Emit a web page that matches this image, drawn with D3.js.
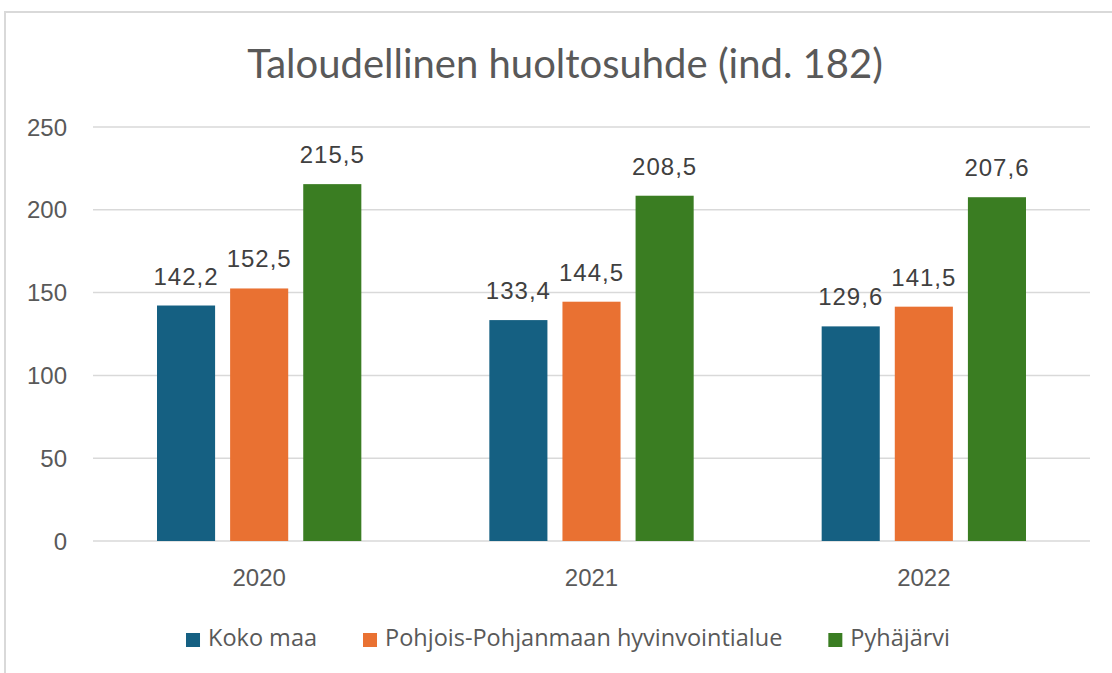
<!DOCTYPE html>
<html>
<head>
<meta charset="utf-8">
<title>Taloudellinen huoltosuhde</title>
<style>
  body { margin: 0; background: #fff; }
  .tick-label { font-family: "Liberation Sans", Arial, sans-serif; font-size: 24px; fill: #595959; }
  .value-label { font-family: "Liberation Sans", Arial, sans-serif; font-size: 24px; fill: #404040; letter-spacing: 1px; }
  .title { font-family: Lato, "Open Sans", sans-serif; font-size: 40px; fill: #595959; }
  .legend-font { font-family: "Open Sans", Lato, sans-serif; font-size: 23.5px; fill: #595959; }
</style>
</head>
<body>
<div id="chart"></div>
<script src="https://cdn.jsdelivr.net/npm/d3@7"></script>
<script>
// data
var years = ["2020", "2021", "2022"];
var seriesNames = ["Koko maa", "Pohjois-Pohjanmaan hyvinvointialue", "Pyhäjärvi"];
var kokoMaa = [142.2, 133.4, 129.6];
var pohjoisPohjanmaa = [152.5, 144.5, 141.5];
var pyhajarvi = [215.5, 208.5, 207.6];
var yTicks = [0, 50, 100, 150, 200, 250];
var colors = ["#156082", "#E97132", "#3A7D22"];

var width = 1112, height = 673;
var plotLeft = 93, plotRight = 1090, plotTop = 127, plotBottom = 541;

var svg = d3.select("#chart").append("svg")
  .attr("width", width)
  .attr("height", height);

// outer chart border (only left and top are in view)
svg.append("path")
  .attr("d", "M5,673 L5,12 L1112,12")
  .attr("fill", "none")
  .attr("stroke", "#d9d9d9")
  .attr("stroke-width", 2);

// title
svg.append("text")
  .attr("class", "title")
  .attr("x", 565)
  .attr("y", 78)
  .attr("text-anchor", "middle")
  .text("Taloudellinen huoltosuhde (ind. 182)");

// scales
var x = d3.scaleBand().domain(years).range([plotLeft, plotRight]);
var y = d3.scaleLinear().domain([0, 250]).range([plotBottom, plotTop]);
var z = d3.scaleBand().domain(seriesNames)
  .range([64, x.bandwidth() - 64])
  .paddingInner(0.2055);
var color = d3.scaleOrdinal().domain(seriesNames).range(colors);

// gridlines
svg.append("g")
  .selectAll("line")
  .data(yTicks)
  .enter().append("line")
  .attr("x1", plotLeft)
  .attr("x2", plotRight)
  .attr("y1", function(d) { return y(d); })
  .attr("y2", function(d) { return y(d); })
  .attr("stroke", "#d9d9d9")
  .attr("stroke-width", 1.5);

// y tick labels
svg.append("g")
  .selectAll("text")
  .data(yTicks)
  .enter().append("text")
  .attr("class", "tick-label")
  .attr("x", 67)
  .attr("y", function(d) { return y(d); })
  .attr("dy", "0.36em")
  .attr("text-anchor", "end")
  .text(function(d) { return d; });

// x labels
svg.append("g")
  .selectAll("text")
  .data(years)
  .enter().append("text")
  .attr("class", "tick-label")
  .attr("x", function(d) { return x(d) + x.bandwidth() / 2; })
  .attr("y", plotBottom + 45)
  .attr("text-anchor", "middle")
  .text(function(d) { return d; });

// build rows from the series arrays
var allSeries = [kokoMaa, pohjoisPohjanmaa, pyhajarvi];
var rows = years.map(function(yr, i) {
  return { year: yr, values: seriesNames.map(function(s, j) { return { key: s, value: allSeries[j][i] }; }) };
});

var fmt = function(v) { return d3.format(".1f")(v).replace(".", ","); };

var groups = svg.append("g")
  .selectAll("g")
  .data(rows)
  .enter().append("g")
  .attr("transform", function(d) { return "translate(" + x(d.year) + ",0)"; });

groups.selectAll("rect")
  .data(function(d) { return d.values; })
  .enter().append("rect")
  .attr("x", function(d) { return z(d.key); })
  .attr("y", function(d) { return y(d.value); })
  .attr("width", z.bandwidth())
  .attr("height", function(d) { return plotBottom - y(d.value); })
  .attr("fill", function(d) { return color(d.key); });

groups.selectAll("text")
  .data(function(d) { return d.values; })
  .enter().append("text")
  .attr("class", "value-label")
  .attr("x", function(d) { return z(d.key) + z.bandwidth() / 2; })
  .attr("y", function(d) { return y(d.value) - 21; })
  .attr("text-anchor", "middle")
  .text(function(d) { return fmt(d.value); });

// legend, laid out from measured text widths and centred
var legend = svg.append("g").attr("class", "legend-font");
var items = legend.selectAll("g")
  .data(seriesNames)
  .enter().append("g");
items.append("rect")
  .attr("width", 14)
  .attr("height", 14)
  .attr("y", 633)
  .attr("fill", function(d) { return color(d); });
items.append("text")
  .attr("x", 22)
  .attr("y", 646)
  .text(function(d) { return d; });

var offsets = [], pos = 0;
items.each(function() {
  offsets.push(pos);
  pos += 22 + this.querySelector("text").getComputedTextLength() + 46;
});
var total = pos - 46;
var start = 568 - total / 2;
items.attr("transform", function(d, i) { return "translate(" + (start + offsets[i]) + ",0)"; });
</script>
</body>
</html>
